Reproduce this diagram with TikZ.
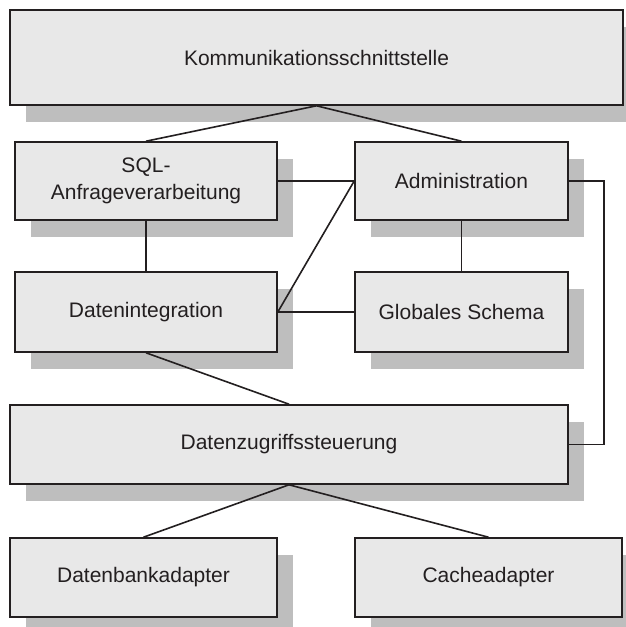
\documentclass[tikz,border=0pt]{standalone}
\usepackage{fontspec}
\setmainfont{Liberation Sans}
\usetikzlibrary{shadows}
\definecolor{boxgray}{HTML}{E8E8E8}
\definecolor{shadowgray}{HTML}{BEBEBE}
\definecolor{ink}{HTML}{231F20}
\begin{document}
\begin{tikzpicture}[x=1pt,y=-1pt,
  module/.style={draw=ink, fill=boxgray, line width=1.6pt, rectangle,
    inner sep=0pt, align=center, text=ink,
    font=\fontsize{21}{27}\selectfont,
    general shadow={shadow xshift=16pt, shadow yshift=-17pt, fill=shadowgray}},
  link/.style={draw=ink, line width=1.6pt}]
\useasboundingbox[fill=white] (0,0) rectangle (625,627);

% components
\node[module, minimum width=613pt, minimum height=95pt] (komm) at (316.5,57.5) {Kommunikationsschnittstelle};
\node[module, minimum width=262pt, minimum height=78pt] (sql) at (146,181) {SQL-\\Anfrageverarbeitung};
\node[module, minimum width=213pt, minimum height=78pt] (admin) at (461.5,181) {Administration};
\node[module, minimum width=262pt, minimum height=80pt] (dint) at (146,312) {Datenintegration};
\node[module, minimum width=213pt, minimum height=80pt] (glob) at (461.5,312) {Globales Schema};
\node[module, minimum width=558pt, minimum height=79pt] (dzs) at (289,444.5) {Datenzugriffssteuerung};
\node[module, minimum width=267pt, minimum height=79pt] (dba) at (143.5,577.5) {Datenbankadapter};
\node[module, minimum width=267pt, minimum height=79pt] (cache) at (488.5,577.5) {Cacheadapter};

% connections
\draw[link] (komm.south) -- (sql.north);
\draw[link] (komm.south) -- (admin.north);
\draw[link] (sql.east) -- (admin.west);
\draw[link] (dint.east) -- (admin.west);
\draw[link] (dint.east) -- (glob.west);
\draw[link] (sql.south) -- (dint.north);
\draw[link] (admin.south) -- (glob.north);
\draw[link] (admin.east) -- ++(35,0) |- (dzs.east);
\draw[link] (dint.south) -- (dzs.north);
\draw[link] (dzs.south) -- (dba.north);
\draw[link] (dzs.south) -- (cache.north);
\end{tikzpicture}
\end{document}
